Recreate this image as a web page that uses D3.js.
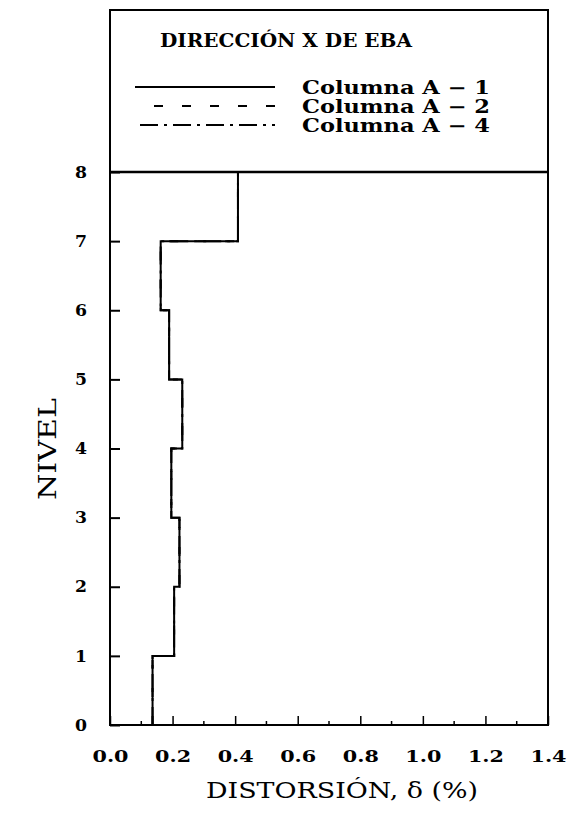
<!DOCTYPE html>
<html><head><meta charset="utf-8">
<script src="https://cdn.jsdelivr.net/npm/d3@7"></script>
<style>body{margin:0;background:#fff}</style>
</head><body>
<svg id="c" width="569" height="814"></svg>
<script>
const levels = [0,1,2,3,4,5,6,7,8];
// drift per storey (between level i and i+1)
const colA1 = [0.136,0.205,0.222,0.196,0.231,0.189,0.162,0.409];
const colA2 = [0.136,0.205,0.222,0.196,0.231,0.189,0.162,0.409];
const colA4 = [0.136,0.205,0.222,0.196,0.231,0.189,0.162,0.409];
const xTicks = [0.0,0.2,0.4,0.6,0.8,1.0,1.2,1.4];
const xMinor = [0.1,0.3,0.5,0.7,0.9,1.1,1.3];
const series = [
  {name:"Columna A \u2212 1", values:colA1, dash:null},
  {name:"Columna A \u2212 2", values:colA2, dash:"9,19"},
  {name:"Columna A \u2212 4", values:colA4, dash:"18,6,3,6"}
];

const svg = d3.select("#c");
const L=110, R=548, T=172, B=725, TOP=10;
const x = d3.scaleLinear().domain([0,1.4]).range([L,R]);
const y = d3.scaleLinear().domain([0,8]).range([B,T]);
const font = "'DejaVu Serif', serif";

function stepPts(vals){
  const pts=[];
  vals.forEach((v,i)=>{pts.push([v,levels[i]]);pts.push([v,levels[i+1]]);});
  return pts;
}
const line = d3.line().x(d=>x(d[0])).y(d=>y(d[1]));
series.slice().reverse().forEach(s=>{
  svg.append("path").attr("d",line(stepPts(s.values)))
    .attr("fill","none").attr("stroke","#000").attr("stroke-width",2)
    .attr("stroke-dasharray",s.dash);
});

// frame
svg.append("rect").attr("x",L).attr("y",TOP).attr("width",R-L).attr("height",B-TOP)
  .attr("fill","none").attr("stroke","#000").attr("stroke-width",2);
svg.append("line").attr("x1",L).attr("x2",R).attr("y1",T).attr("y2",T)
  .attr("stroke","#000").attr("stroke-width",2.5);

// x axis
const xAxis = d3.axisBottom(x).tickValues(xTicks).tickSize(-9).tickPadding(22)
  .tickFormat(d3.format(".1f"));
const gx = svg.append("g").attr("transform",`translate(0,${B})`).call(xAxis);
gx.select(".domain").remove();
gx.selectAll(".tick line").attr("stroke-width",1.5);
gx.selectAll("text").attr("font-family",font).attr("font-weight","bold").attr("font-size",16)
  .attr("fill","#000").attr("dy",null).attr("y",37)
  .attr("textLength",36).attr("lengthAdjust","spacingAndGlyphs");
svg.append("g").selectAll("line").data(xMinor).join("line")
  .attr("x1",d=>x(d)).attr("x2",d=>x(d)).attr("y1",B).attr("y2",B-4)
  .attr("stroke","#000").attr("stroke-width",1.5);

// y axis
const yAxis = d3.axisLeft(y).tickValues(levels).tickSize(-10).tickPadding(23).tickFormat(d3.format("d"));
const gy = svg.append("g").attr("transform",`translate(${L},0)`).call(yAxis);
gy.select(".domain").remove();
gy.selectAll(".tick line").attr("stroke-width",2);
gy.selectAll("text").attr("font-family",font).attr("font-weight","bold").attr("font-size",16)
  .attr("fill","#000").attr("textLength",12).attr("lengthAdjust","spacingAndGlyphs");

// axis titles
svg.append("text").attr("x",342).attr("y",798).attr("text-anchor","middle")
  .attr("font-family",font).attr("font-size",23)
  .attr("textLength",272).attr("lengthAdjust","spacingAndGlyphs").text("DISTORSI\u00D3N, \u03B4 (%)");
svg.append("text").attr("transform",`translate(56,${449}) rotate(-90)`).attr("text-anchor","middle")
  .attr("font-family",font).attr("font-size",24)
  .attr("textLength",102).attr("lengthAdjust","spacingAndGlyphs").text("NIVEL");

// legend
svg.append("text").attr("x",160).attr("y",47).attr("font-family",font).attr("font-weight","bold")
  .attr("font-size",18).attr("textLength",252).attr("lengthAdjust","spacingAndGlyphs")
  .text("DIRECCI\u00D3N X DE EBA");
const lx1 = [135,154,140];
series.forEach((s,i)=>{
  const yy = 87+i*19;
  svg.append("line").attr("x1",lx1[i]).attr("x2",275).attr("y1",yy).attr("y2",yy)
    .attr("stroke","#000").attr("stroke-width",2).attr("stroke-dasharray",s.dash);
  svg.append("text").attr("x",302).attr("y",yy+6.5).attr("font-family",font).attr("font-weight","bold")
    .attr("font-size",18).attr("textLength",188).attr("lengthAdjust","spacingAndGlyphs").text(s.name);
});
</script>
</body></html>
